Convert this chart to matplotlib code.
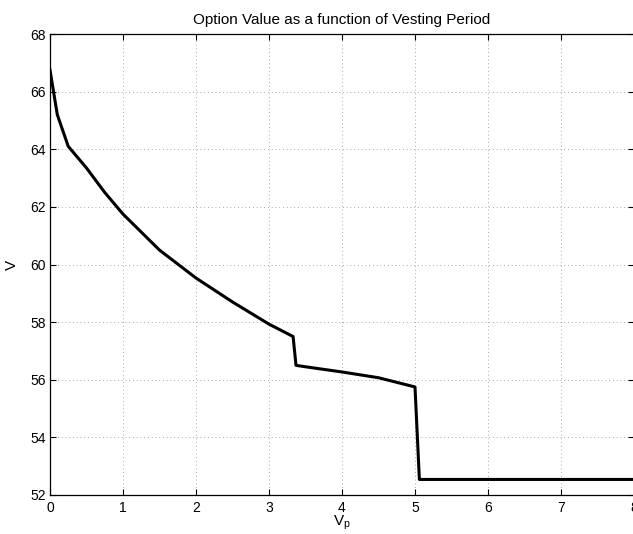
import matplotlib
matplotlib.use("Agg")
import matplotlib.pyplot as plt

# vesting period (years) vs option value
vp = [0, 0.1, 0.25, 0.5, 0.75, 1.0, 1.5, 2.0, 2.5, 3.0, 3.33, 3.37, 3.5, 4.0, 4.5, 5.0, 5.06, 8.0]
value = [66.75, 65.2, 64.1, 63.35, 62.5, 61.75, 60.5, 59.53, 58.7, 57.93, 57.5, 56.5,
         56.45, 56.27, 56.07, 55.75, 52.54, 52.54]

xticks = [0, 1, 2, 3, 4, 5, 6, 7, 8]
yticks = [52, 54, 56, 58, 60, 62, 64, 66, 68]

plt.rcParams["font.family"] = ["Liberation Sans", "DejaVu Sans"]
plt.rcParams["font.size"] = 10

fig = plt.figure(figsize=(6.33, 5.34), dpi=100)
ax = fig.add_axes([50 / 633, 39 / 534, 584 / 633, 461 / 534])

ax.plot(vp, value, color="black", linewidth=2.2)

ax.set_xlim(0, 8)
ax.set_ylim(52, 68)
ax.set_xticks(xticks)
ax.set_yticks(yticks)
ax.grid(True, color="0.55", linestyle=(0, (1, 3.5)), linewidth=0.6)
ax.tick_params(direction="in", top=True, right=True, length=4, width=0.8,
               pad=3, labelsize=10)
ax.tick_params(axis="x", pad=4)
for s in ax.spines.values():
    s.set_linewidth(0.9)

ax.set_title("Option Value as a function of Vesting Period", fontsize=11, pad=7)
ax.set_xlabel("V$_\\mathregular{p}$", fontsize=11, labelpad=-1)
ax.set_ylabel("V", fontsize=11, labelpad=8)

fig.savefig("out.png", dpi=100)
